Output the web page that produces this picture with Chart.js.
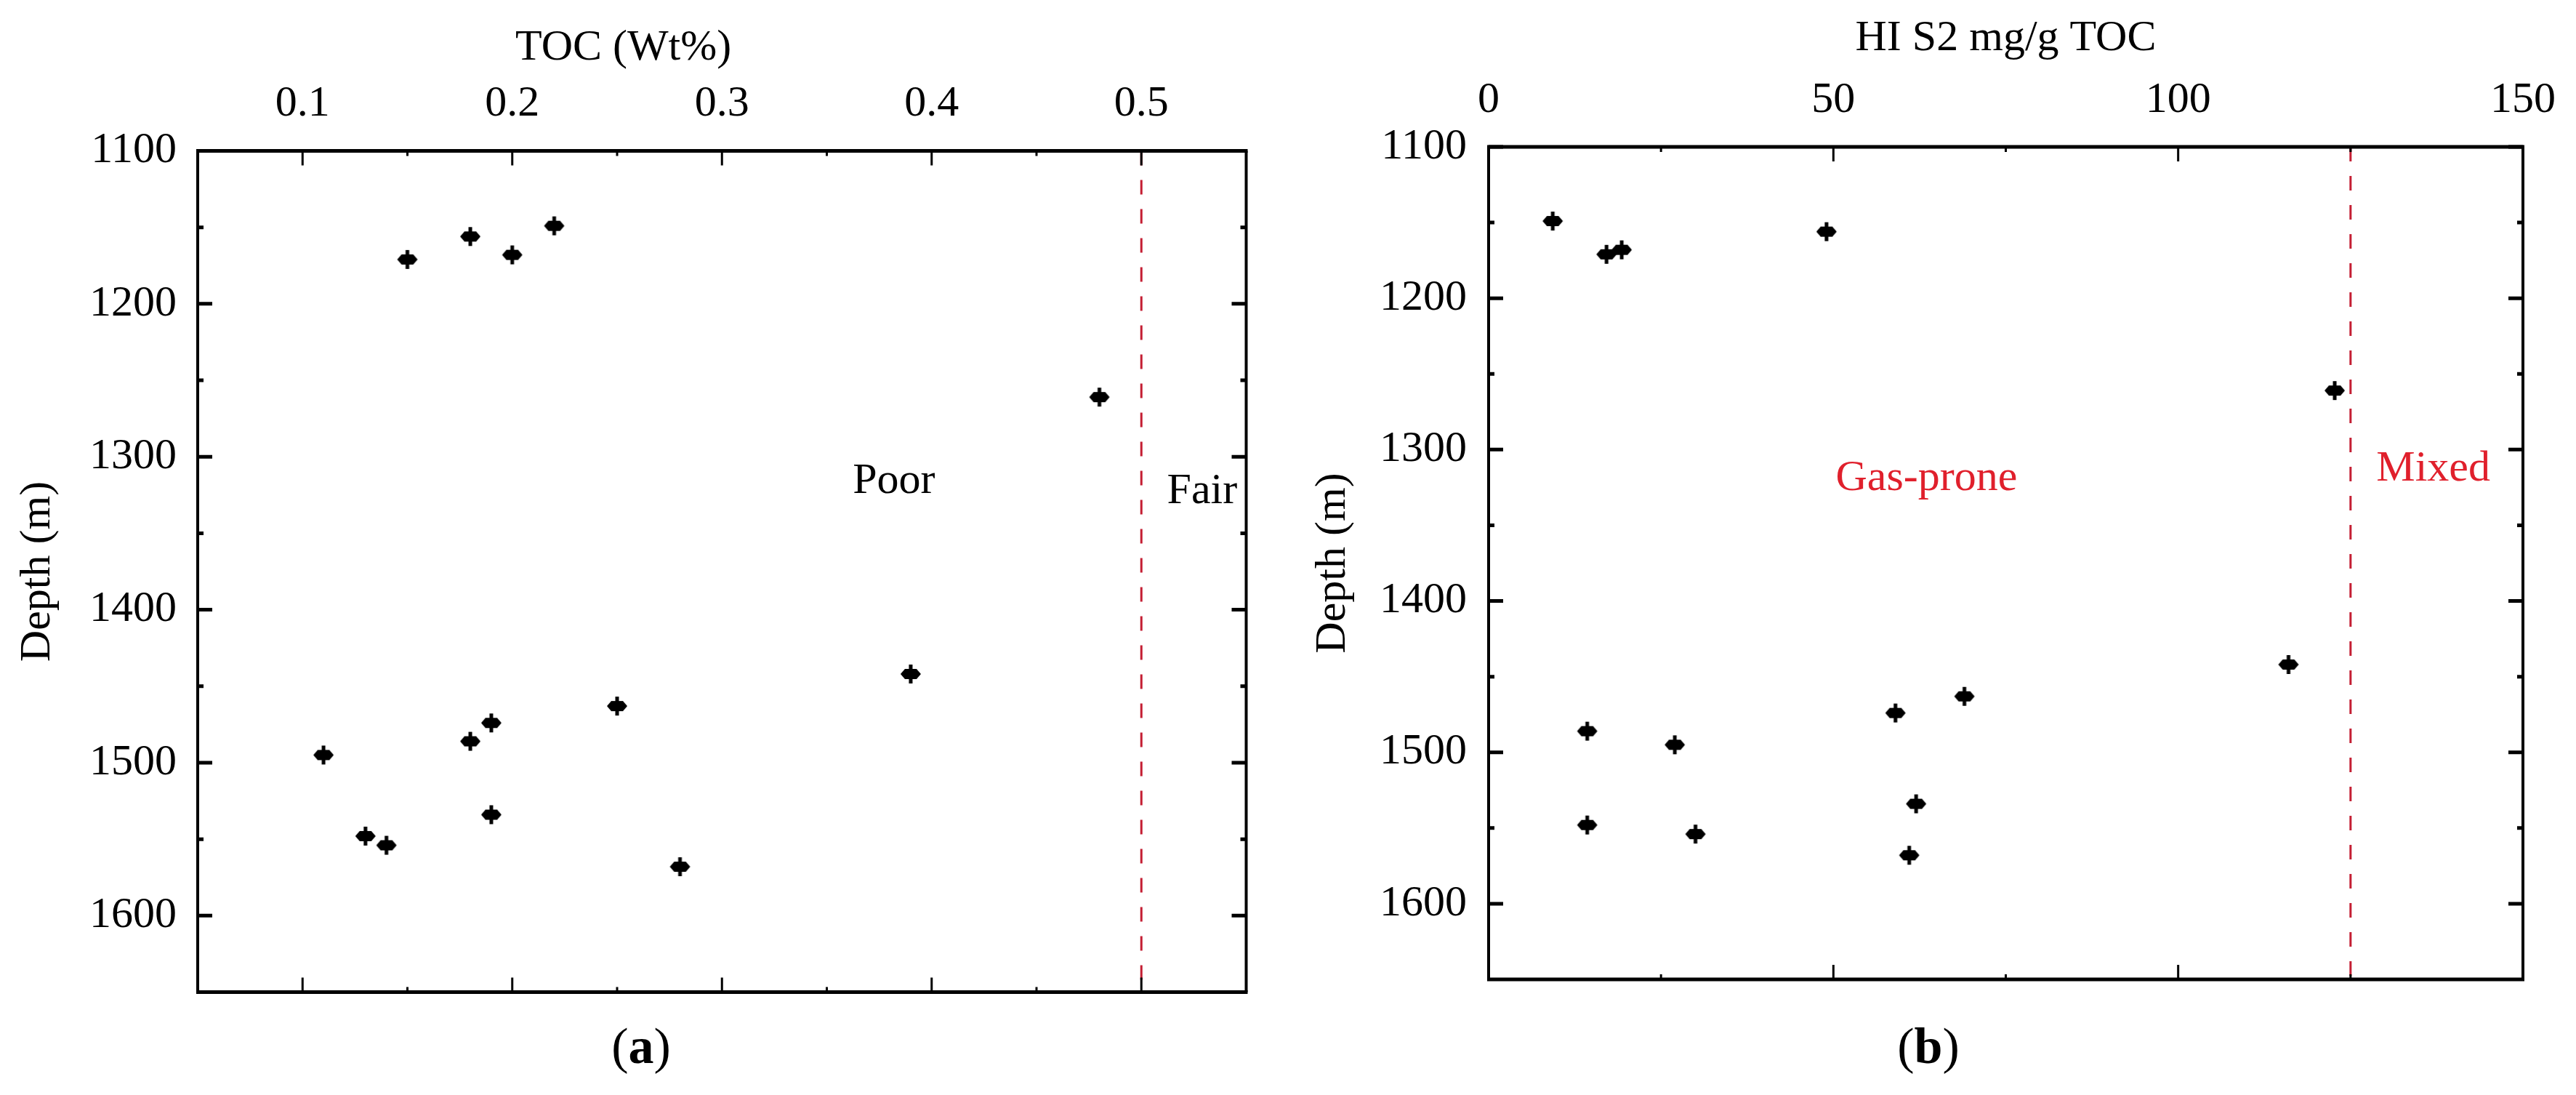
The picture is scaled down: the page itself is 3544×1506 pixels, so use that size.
<!DOCTYPE html>
<html>
<head>
<meta charset="utf-8">
<title>TOC and HI vs depth</title>
<script src="https://cdn.jsdelivr.net/npm/chart.js@4.4.0/dist/chart.umd.min.js"></script>
<style>
    body { margin: 0; background: #fff; width: 3544px; height: 1506px; overflow: hidden; }
    .panel { position: absolute; top: 0; width: 1772px; height: 1506px; }
    .caption { position: absolute; width: 200px; text-align: center; font: 70px 'Liberation Serif', serif; line-height: 70px; color: #000; }
</style>
</head>
<body>
<div class="panel" style="left:0">
    <canvas id="tocChart" width="1772" height="1506"></canvas>
    <div class="caption" style="left:782px; top:1404px">(<b>a</b>)</div>
</div>
<div class="panel" style="left:1772px">
    <canvas id="hiChart" width="1772" height="1506"></canvas>
    <div class="caption" style="left:781px; top:1404px">(<b>b</b>)</div>
</div>
<script>
// samples (same depths in both panels)
const depths = [1149, 1156, 1168, 1171, 1261, 1442, 1463, 1474, 1486, 1495, 1534, 1548, 1554, 1568];
const tocValues = [0.22, 0.18, 0.20, 0.15, 0.48, 0.39, 0.25, 0.19, 0.18, 0.11, 0.19, 0.13, 0.14, 0.28];
const hiValues = [9.3, 49, 19.3, 17.1, 122.7, 116, 69, 59, 14.3, 27, 62, 14.3, 30, 61];

// axes
const depthTicks = [1100, 1200, 1300, 1400, 1500, 1600];
const depthMinorTicks = [1150, 1250, 1350, 1450, 1550];
const tocTicks = [0.1, 0.2, 0.3, 0.4, 0.5];
const tocMinorTicks = [0.15, 0.25, 0.35, 0.45];
const hiTicks = [0, 50, 100, 150];
const hiMinorTicks = [25, 75, 125];

// cut-off lines
const tocCutoff = 0.5;
const hiCutoff = 125;

const FONT = "'Liberation Serif', 'Times New Roman', serif";
const RED = '#c41e33';

// marker: flat diamond with a vertical stem
function makeMarker() {
    const c = document.createElement('canvas');
    c.width = 32;
    c.height = 30;
    const g = c.getContext('2d');
    g.translate(16, 15);
    g.fillStyle = '#000';
    g.beginPath();
    g.moveTo(-14, 0);
    g.lineTo(-8, -7);
    g.lineTo(8, -7);
    g.lineTo(14, 0);
    g.lineTo(8, 7);
    g.lineTo(-8, 7);
    g.closePath();
    g.fill();
    g.fillRect(-2.5, -13, 5, 26);
    return c;
}
const marker = makeMarker();

// frame, inward ticks, top title and zone labels
const framePlugin = {
    id: 'frame',
    afterDraw(chart, args, opts) {
        const { ctx, chartArea: a, scales: { x, y } } = chart;
        ctx.save();
        ctx.strokeStyle = '#000';
        ctx.lineCap = 'butt';

        const vTick = (v, len) => {
            const px = x.getPixelForValue(v);
            ctx.beginPath();
            ctx.moveTo(px, a.top); ctx.lineTo(px, a.top + len);
            ctx.moveTo(px, a.bottom); ctx.lineTo(px, a.bottom - len);
            ctx.stroke();
        };
        const hTick = (v, len) => {
            const py = y.getPixelForValue(v);
            ctx.beginPath();
            ctx.moveTo(a.left, py); ctx.lineTo(a.left + len, py);
            ctx.moveTo(a.right, py); ctx.lineTo(a.right - len, py);
            ctx.stroke();
        };
        ctx.lineWidth = 3;
        opts.xMajor.forEach(v => vTick(v, 20));
        opts.xMinor.forEach(v => vTick(v, 7));
        ctx.lineWidth = 5;
        opts.yMajor.forEach(v => hTick(v, 20));
        opts.yMinor.forEach(v => hTick(v, 8));

        // box
        ctx.lineWidth = 5;
        ctx.beginPath();
        ctx.moveTo(a.left - 2, a.top); ctx.lineTo(a.right + 2, a.top);
        ctx.moveTo(a.left - 2, a.bottom); ctx.lineTo(a.right + 2, a.bottom);
        ctx.stroke();
        ctx.lineWidth = 4;
        ctx.beginPath();
        ctx.moveTo(a.left, a.top); ctx.lineTo(a.left, a.bottom);
        ctx.moveTo(a.right, a.top); ctx.lineTo(a.right, a.bottom);
        ctx.stroke();

        // x axis title (drawn above the tick labels)
        ctx.font = '60px ' + FONT;
        ctx.fillStyle = '#000';
        ctx.textAlign = 'center';
        ctx.textBaseline = 'middle';
        ctx.fillText(opts.xTitle, x.getPixelForValue(opts.xTitleAt), opts.xTitleY);

        // zone labels
        opts.zones.forEach(z => {
            ctx.fillStyle = z.color;
            ctx.fillText(z.text, x.getPixelForValue(z.x), y.getPixelForValue(z.y));
        });
        ctx.restore();
    }
};

function makeChart(id, cfg) {
    const points = depths.map((d, i) => ({ x: cfg.values[i], y: d }));
    return new Chart(document.getElementById(id), {
        type: 'scatter',
        data: {
            datasets: [
                {
                    data: points,
                    pointStyle: marker,
                    pointRadius: 14,
                    showLine: false
                },
                {
                    type: 'line',
                    data: [{ x: cfg.cutoff, y: 1100 }, { x: cfg.cutoff, y: 1650 }],
                    borderColor: RED,
                    borderWidth: 3,
                    borderDash: [20, 20],
                    pointRadius: 0,
                    fill: false
                }
            ]
        },
        options: {
            responsive: false,
            animation: false,
            events: [],
            layout: { padding: cfg.padding },
            plugins: {
                legend: { display: false },
                tooltip: { enabled: false },
                frame: {
                    xMajor: cfg.xTicks, xMinor: cfg.xMinor,
                    yMajor: depthTicks, yMinor: depthMinorTicks,
                    xTitle: cfg.xTitle, xTitleAt: cfg.xTitleAt, xTitleY: cfg.xTitleY,
                    zones: cfg.zones
                }
            },
            scales: {
                x: {
                    type: 'linear',
                    position: 'top',
                    min: cfg.xMin,
                    max: cfg.xMax,
                    afterBuildTicks: s => { s.ticks = cfg.xTicks.map(v => ({ value: v })); },
                    afterFit: s => { s.height = cfg.top; },
                    grid: { display: false, drawTicks: false },
                    border: { display: false },
                    ticks: {
                        padding: 28,
                        maxRotation: 0,
                        autoSkip: false,
                        color: '#000',
                        font: { family: FONT, size: 60 },
                        callback: v => String(v)
                    }
                },
                y: {
                    type: 'linear',
                    reverse: true,
                    min: 1100,
                    max: 1650,
                    afterBuildTicks: s => { s.ticks = depthTicks.map(v => ({ value: v })); },
                    afterFit: s => { s.width = cfg.left; },
                    grid: { display: false, drawTicks: false },
                    border: { display: false },
                    ticks: {
                        padding: cfg.yPad,
                        autoSkip: false,
                        color: '#000',
                        font: { family: FONT, size: 60 },
                        callback: v => String(v)
                    },
                    title: {
                        display: true,
                        text: 'Depth (m)',
                        color: '#000',
                        font: { family: FONT, size: 60 },
                        padding: { top: cfg.yTitlePad, bottom: 0 }
                    }
                }
            }
        },
        plugins: [framePlugin]
    });
}

makeChart('tocChart', {
    values: tocValues,
    cutoff: tocCutoff,
    xMin: 0.05, xMax: 0.55,
    xTicks: tocTicks, xMinor: tocMinorTicks,
    xTitle: 'TOC (Wt%)', xTitleAt: 0.253, xTitleY: 66,
    left: 272, top: 207.5, yPad: 29, yTitlePad: 16,
    padding: { left: 0, top: 0, right: 57.5, bottom: 141.5 },
    zones: [
        { text: 'Poor', x: 0.382, y: 1316, color: '#000' },
        { text: 'Fair', x: 0.529, y: 1323, color: '#000' }
    ]
});

makeChart('hiChart', {
    values: hiValues,
    cutoff: hiCutoff,
    xMin: 0, xMax: 150,
    xTicks: hiTicks, xMinor: hiMinorTicks,
    xTitle: 'HI S2 mg/g TOC', xTitleAt: 75, xTitleY: 53,
    left: 276, top: 202, yPad: 30, yTitlePad: 26,
    padding: { left: 0, top: 0, right: 69, bottom: 159 },
    zones: [
        { text: 'Gas-prone', x: 63.5, y: 1319, color: '#e0202c' },
        { text: 'Mixed', x: 137, y: 1313, color: '#e0202c' }
    ]
});
</script>
</body>
</html>
